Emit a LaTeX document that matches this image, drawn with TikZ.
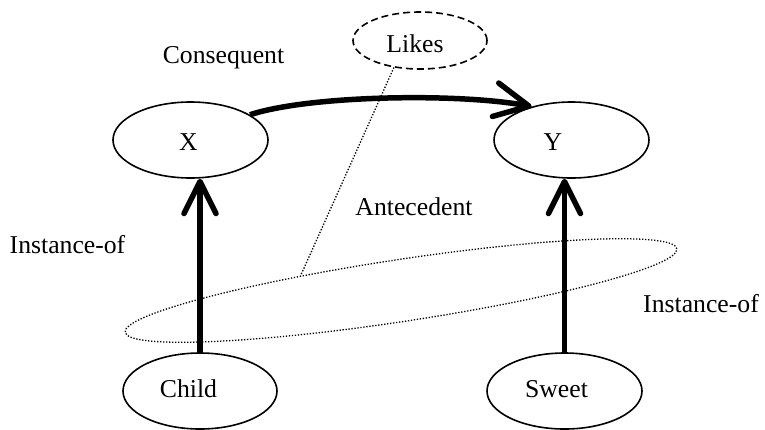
\documentclass[tikz,border=0pt]{standalone}
\usepackage{fontspec}
\setmainfont{Liberation Serif}
\usetikzlibrary{shapes.geometric,arrows.meta}
\begin{document}
\begin{tikzpicture}[x=1bp,y=-1bp,
  oval/.style={ellipse, draw, line width=1.6bp, inner sep=0pt},
  lbl/.style={inner sep=0pt, anchor=base, font=\fontsize{25.7bp}{30bp}\selectfont},
  thickarrow/.style={line width=5.5bp, -{Straight Barb[length=32bp,width=32bp,round]}},
  bigarrow/.style={line width=5.5bp, -{Straight Barb[length=34bp,width=34bp,round]}},
  dotline/.style={line width=1.3bp, dash pattern=on 1.3bp off 1.7bp},
]
\useasboundingbox (0,0) rectangle (765,429);
% ellipses
\node[oval, minimum width=155bp, minimum height=76bp] (X) at (190.5,140) {};
\node[oval, minimum width=155bp, minimum height=76bp] (Y) at (571.5,140) {};
\node[oval, minimum width=154bp, minimum height=76bp] (Child) at (200,391) {};
\node[oval, minimum width=155bp, minimum height=76bp] (Sweet) at (564.5,391) {};
\node[oval, dash pattern=on 7bp off 4bp, minimum width=134bp, minimum height=57bp] (Likes) at (420,40.5) {};
\node[ellipse, draw, dotline, inner sep=0pt, rotate=8.6, minimum width=558bp, minimum height=62bp] (ante) at (401,290.5) {};
% labels
\node[lbl] (tX) at (188.5,150) {X};
\node[lbl] (tY) at (553,150) {Y};
\node[lbl] (tChild) at (188.5,397) {Child};
\node[lbl] (tSweet) at (556.5,397) {Sweet};
\node[lbl] (tLikes) at (415,52) {Likes};
\node[lbl] (tCons) at (223.5,63) {Consequent};
\node[lbl] (tAnte) at (414,215) {Antecedent};
\node[lbl] (tInstL) at (67.5,253) {Instance-of};
\node[lbl] (tInstR) at (701,312) {Instance-of};
% connectors
\draw[bigarrow] (X.23) .. controls (310,95) and (460,93) .. (Y.140);
\draw[thickarrow] (Child.north) -- (Child.north |- X.south);
\draw[thickarrow] (Sweet.north) -- (Sweet.north |- Y.south);
\draw[dotline] (Likes.226) -- (ante.163.5);
\end{tikzpicture}
\end{document}
